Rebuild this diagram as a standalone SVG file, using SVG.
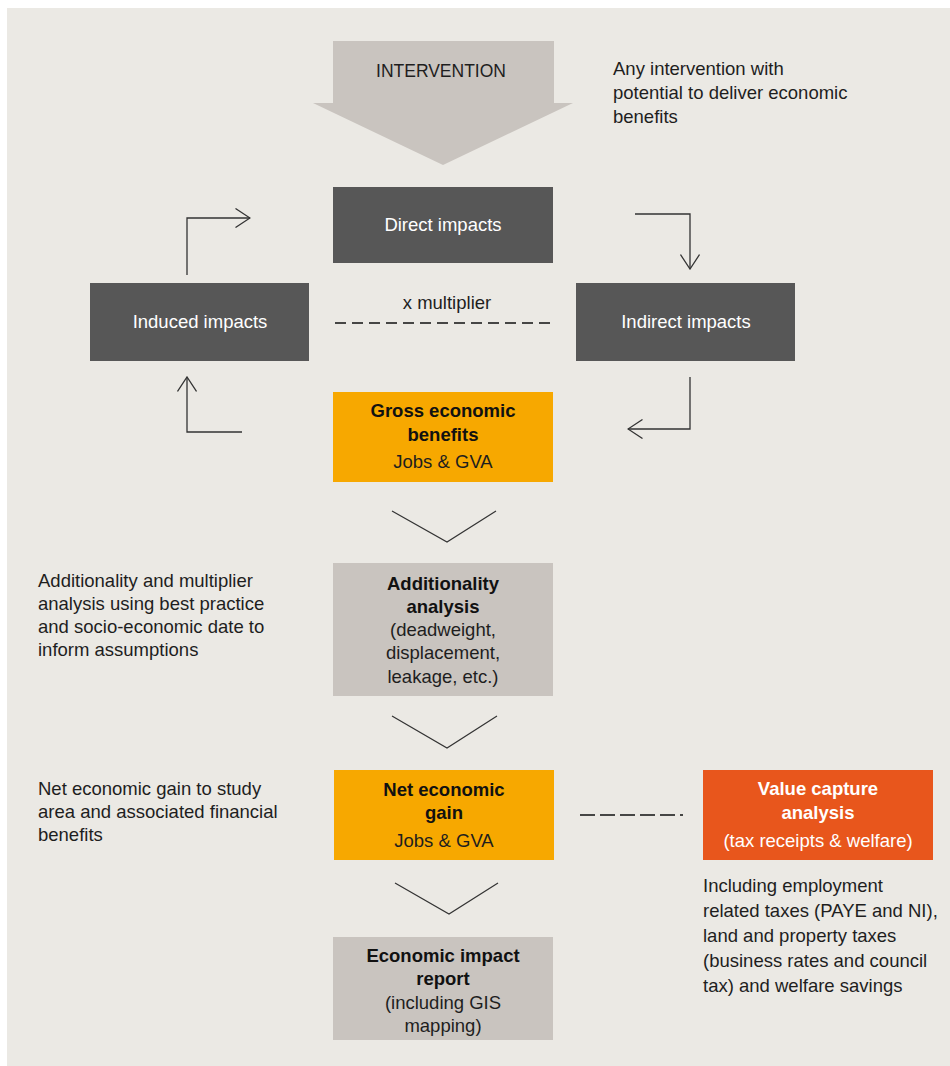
<svg xmlns="http://www.w3.org/2000/svg" width="950" height="1066" viewBox="0 0 950 1066">
  <defs>
    <marker id="open" viewBox="0 0 16 20" refX="15" refY="10" markerWidth="16" markerHeight="20" markerUnits="userSpaceOnUse" orient="auto">
      <path d="M0.5,0.5 L15,10 L0.5,19.5" fill="none" stroke="#333" stroke-width="1.3"/>
    </marker>
    <style>
      text { font-family: "Liberation Sans", Arial, sans-serif; }
      .body { font-size: 18.5px; fill: #1e1e1e; }
      .bold { font-size: 18.5px; font-weight: bold; fill: #111; text-anchor: middle; }
      .reg { font-size: 18.5px; fill: #1e1e1e; text-anchor: middle; }
      .white { font-size: 18.5px; fill: #fff; text-anchor: middle; }
      .whiteb { font-size: 18.5px; fill: #fff; font-weight: bold; text-anchor: middle; }
      .conn { fill: none; stroke: #333; stroke-width: 1.3; }
      .dash { fill: none; stroke: #111; stroke-width: 1.7; }
      .chev { fill: none; stroke: #333; stroke-width: 1.2; }
      .dark { fill: #575757; }
      .grey { fill: #c9c4bf; }
      .gold { fill: #f7a800; }
      .orange { fill: #e8561c; }
    </style>
  </defs>

  <rect x="7" y="8" width="943" height="1058" fill="#ebe9e4"/>

  <g id="intervention">
    <polygon class="grey" points="333,41 554,41 554,103 573,103 443,165 313,103 333,103"/>
    <text x="441" y="77" style="font-size:17.5px;fill:#1e1e1e;text-anchor:middle">INTERVENTION</text>
  </g>
  <g id="intervention-note">
    <text class="body" x="613" y="75">Any intervention with</text>
    <text class="body" x="613" y="99">potential to deliver economic</text>
    <text class="body" x="613" y="123">benefits</text>
  </g>

  <g id="direct">
    <rect class="dark" x="333" y="187" width="220" height="76"/>
    <text class="white" x="443" y="231">Direct impacts</text>
  </g>
  <g id="induced">
    <rect class="dark" x="90" y="283" width="219" height="78"/>
    <text class="white" x="200" y="328">Induced impacts</text>
  </g>
  <g id="indirect">
    <rect class="dark" x="576" y="283" width="219" height="78"/>
    <text class="white" x="686" y="328">Indirect impacts</text>
  </g>

  <g id="gross">
    <rect class="gold" x="333" y="392" width="220" height="90"/>
    <text class="bold" x="443" y="417">Gross economic</text>
    <text class="bold" x="443" y="441">benefits</text>
    <text class="reg" x="443" y="468">Jobs &amp; GVA</text>
  </g>

  <g id="additionality">
    <rect class="grey" x="333" y="563" width="220" height="133"/>
    <text class="bold" x="443" y="590">Additionality</text>
    <text class="bold" x="443" y="613">analysis</text>
    <text class="reg" x="443" y="636">(deadweight,</text>
    <text class="reg" x="443" y="659">displacement,</text>
    <text class="reg" x="443" y="683">leakage, etc.)</text>
  </g>
  <g id="additionality-note">
    <text class="body" x="38" y="587">Additionality and multiplier</text>
    <text class="body" x="38" y="610">analysis using best practice</text>
    <text class="body" x="38" y="633">and socio-economic date to</text>
    <text class="body" x="38" y="656">inform assumptions</text>
  </g>

  <g id="net">
    <rect class="gold" x="334" y="770" width="220" height="90"/>
    <text class="bold" x="444" y="796">Net economic</text>
    <text class="bold" x="444" y="819">gain</text>
    <text class="reg" x="444" y="847">Jobs &amp; GVA</text>
  </g>
  <g id="net-note">
    <text class="body" x="38" y="795">Net economic gain to study</text>
    <text class="body" x="38" y="818">area and associated financial</text>
    <text class="body" x="38" y="841">benefits</text>
  </g>

  <g id="value-capture">
    <rect class="orange" x="703" y="770" width="230" height="90"/>
    <text class="whiteb" x="818" y="795">Value capture</text>
    <text class="whiteb" x="818" y="819">analysis</text>
    <text class="white" x="818" y="847">(tax receipts &amp; welfare)</text>
  </g>
  <g id="value-capture-note">
    <text class="body" x="703" y="892">Including employment</text>
    <text class="body" x="703" y="917">related taxes (PAYE and NI),</text>
    <text class="body" x="703" y="942">land and property taxes</text>
    <text class="body" x="703" y="967">(business rates and council</text>
    <text class="body" x="703" y="992">tax) and welfare savings</text>
  </g>

  <g id="report">
    <rect class="grey" x="333" y="937" width="220" height="103"/>
    <text class="bold" x="443" y="962">Economic impact</text>
    <text class="bold" x="443" y="985">report</text>
    <text class="reg" x="443" y="1009">(including GIS</text>
    <text class="reg" x="443" y="1032">mapping)</text>
  </g>

  <g id="connectors">
    <polyline class="conn" points="187,275 187,218 250,218" marker-end="url(#open)"/>
    <polyline class="conn" points="635,214 690,214 690,269" marker-end="url(#open)"/>
    <polyline class="conn" points="690,377 690,429 628,429" marker-end="url(#open)"/>
    <polyline class="conn" points="242,432 187,432 187,377" marker-end="url(#open)"/>
    <text x="447" y="309" style="font-size:18.5px;fill:#1e1e1e;text-anchor:middle">x multiplier</text>
    <line class="dash" x1="335" y1="323" x2="551" y2="323" stroke-dasharray="11,6"/>
    <line class="dash" x1="580" y1="815" x2="683" y2="815" stroke-dasharray="15,5"/>
    <polyline class="chev" points="392,511 447,542 496,511"/>
    <polyline class="chev" points="392,716 447,748 497,716"/>
    <polyline class="chev" points="395,883 449,914 498,883"/>
  </g>
</svg>
